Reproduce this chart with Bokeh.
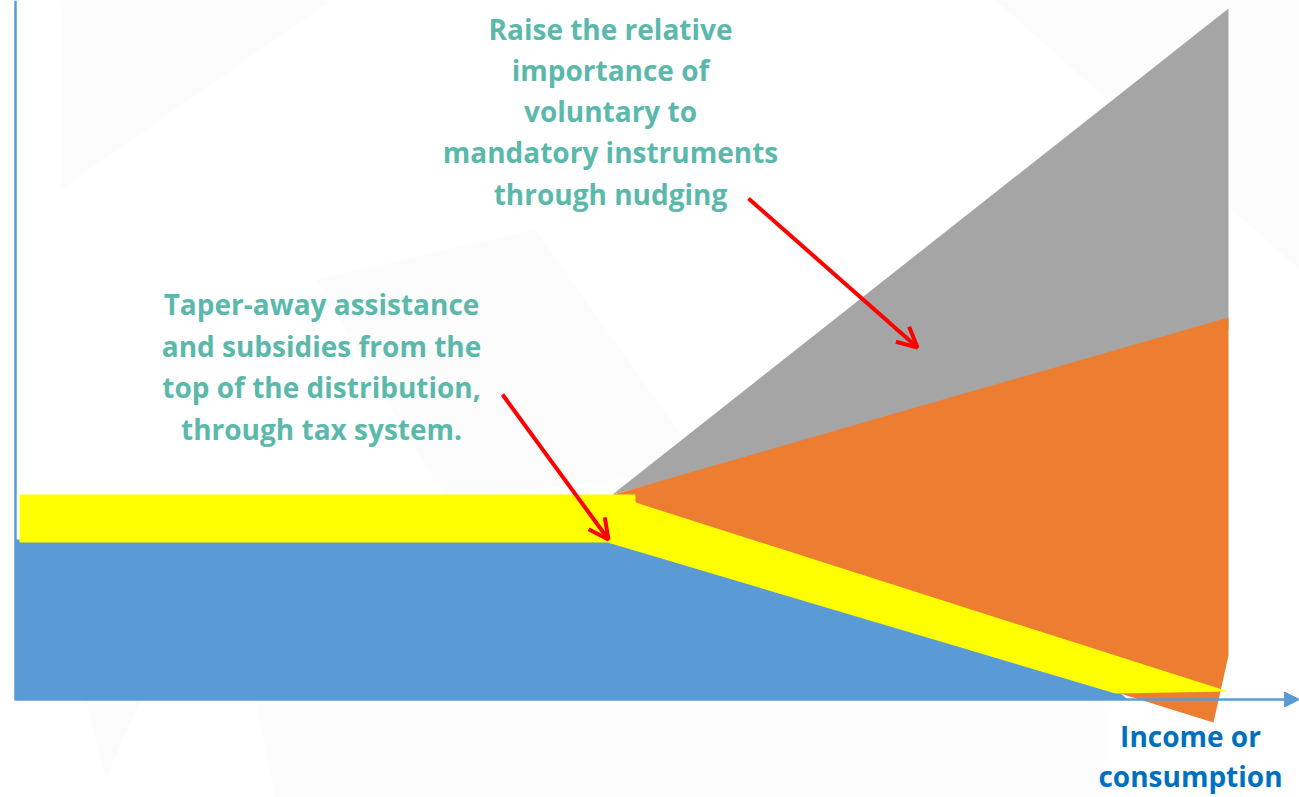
from bokeh.plotting import figure
from bokeh.models import Range1d, Arrow, OpenHead, NormalHead
from bokeh.core.properties import value
from bokeh.embed import file_html
from bokeh.resources import INLINE

# Diagram units: x = income (origin at the vertical axis), y = level above the income axis
# Blue: basic support, flat then tapering to zero (top edge tucked under the yellow band)
blue_x = [0, 594, 1102, 1112, 0]
blue_y = [160, 160, 9, 0, 0]

# Yellow: assistance and subsidies, flat band then tapered away
yellow_x = [4, 620, 620, 1213, 1100, 592, 4]
yellow_y = [205, 205, 197, 8, 6, 157, 157]

# Orange: mandatory instruments
orange_x = [598, 1213, 1213, 1198, 1095, 620]
orange_y = [205, 382, 44, -23, 9, 197]

# Grey: voluntary instruments
grey_x = [597, 1213, 1213]
grey_y = [205, 691, 370]

# Faint backdrop facets
bg_shapes = [
    ([45, 315, 45], [699, 699, 510]),
    ([300, 520, 690, 430], [420, 470, 230, 200]),
    ([980, 1284, 1284], [699, 699, 430]),
    ([70, 90, 125], [0, -80, 0]),
    ([240, 1090, 1090, 260], [-1, -1, -98, -98]),
]

top_lines = ["Raise the relative", "importance of", "voluntary to",
             "mandatory instruments", "through nudging"]
top_x = 595
top_y = [659, 618, 577, 536, 494]

left_lines = ["Taper-away assistance", "and subsidies from the",
              "top of the distribution,", "through tax system."]
left_x = 306
left_y = [384, 342, 301, 259]

axis_lines = ["Income or", "consumption"]
axis_lbl_x = 1175
axis_lbl_y = [-48, -88]

# Pointer arrows: (x_start, y_start, x_end, y_end)
pointers = [(733, 501, 902, 352), (487, 305, 593, 160)]

X0, X1 = -15, 1284
Y0, Y1 = -98, 699
TXT_LIFT = 12  # baseline correction for the svg text placement

p = figure(width=1299, height=797, output_backend="svg", toolbar_location=None,
           x_range=Range1d(X0, X1), y_range=Range1d(Y0, Y1),
           min_border=0, outline_line_color=None)
p.axis.visible = False
p.grid.visible = False
p.background_fill_color = "white"
p.border_fill_color = "white"

for bx, by in bg_shapes:
    p.patch(bx, by, fill_color="#f3f5f4", fill_alpha=0.35, line_color=None)

p.patch(grey_x, grey_y, fill_color="#a5a5a5", line_color=None)
p.patch(orange_x, orange_y, fill_color="#ed7d31", line_color=None)
p.patch(blue_x, blue_y, fill_color="#5b9bd5", line_color=None)
p.patch(yellow_x, yellow_y, fill_color="#ffff00", line_color=None)

# Axes
axis_col = "#5b9bd5"
p.segment(x0=[0], y0=[-1], x1=[0], y1=[Y1], line_color=axis_col, line_width=2.5)
p.add_layout(Arrow(x_start=0, y_start=0, x_end=X1, y_end=0,
                   line_color=axis_col, line_width=2.5,
                   end=NormalHead(size=15, fill_color=axis_col, line_color=axis_col)))

for xs, ys, xe, ye in pointers:
    p.add_layout(Arrow(x_start=xs, y_start=ys, x_end=xe, y_end=ye,
                       line_color="#ff0000", line_width=4,
                       end=OpenHead(size=20, line_color="#ff0000", line_width=4)))

teal = "#5bb9ac"
font = value("Open Sans")
fsize = "28px"


def lifted(ys):
    return [y + TXT_LIFT for y in ys]


p.text(x=[top_x] * len(top_lines), y=lifted(top_y), text=top_lines, text_font=font,
       text_font_size=fsize, text_font_style="bold", text_color=teal,
       text_align="center", text_baseline="alphabetic")
p.text(x=[left_x] * len(left_lines), y=lifted(left_y), text=left_lines, text_font=font,
       text_font_size=fsize, text_font_style="bold", text_color=teal,
       text_align="center", text_baseline="alphabetic")
p.text(x=[axis_lbl_x] * 2, y=lifted(axis_lbl_y), text=axis_lines, text_font=font,
       text_font_size=fsize, text_font_style="bold", text_color="#0070c0",
       text_align="center", text_baseline="alphabetic")

open("out.html", "w").write(file_html(p, INLINE))
